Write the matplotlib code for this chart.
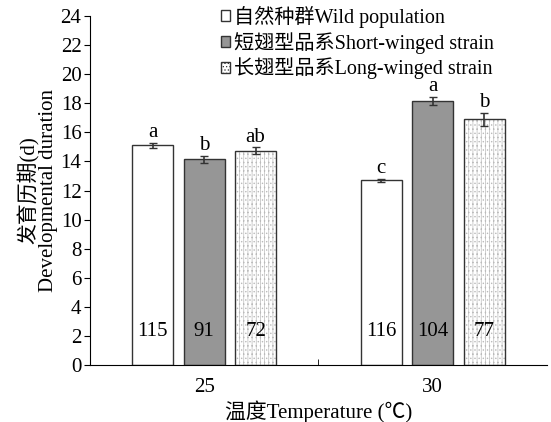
import numpy as np
import matplotlib.pyplot as plt
from matplotlib.patches import Patch

plt.rcParams['font.family'] = ['Liberation Serif', 'Noto Sans CJK SC']
plt.rcParams['hatch.linewidth'] = 0.5

temps = ['25', '30']
series = ['自然种群Wild population', '短翅型品系Short-winged strain', '长翅型品系Long-winged strain']
means = [[15.1, 12.7], [14.15, 18.15], [14.75, 16.9]]
errs = [[0.2, 0.12], [0.25, 0.3], [0.25, 0.45]]
letters = [['a', 'c'], ['b', 'a'], ['ab', 'b']]
counts = [['115', '116'], ['91', '104'], ['72', '77']]

fig = plt.figure(figsize=(5.51, 4.22), dpi=100)
ax = fig.add_axes([0.163, 0.135, 0.83, 0.827])

x = np.arange(len(temps))
w = 0.18
step = 0.225
offs = [-step, 0, step]
faces = ['white', '#969696', 'white']
hatches = [None, None, '||||....']

for i in range(3):
    pos = x + offs[i]
    if hatches[i]:
        ax.bar(pos, means[i], w, color='white', edgecolor='#bbbbbb', hatch=hatches[i], lw=0)
        ax.bar(pos, means[i], w, fill=False, edgecolor='#333333', lw=1)
    else:
        ax.bar(pos, means[i], w, color=faces[i], edgecolor='#333333', lw=1)
    ax.errorbar(pos, means[i], yerr=errs[i], fmt='none', ecolor='#333333', capsize=3, lw=1.2)
    for j in range(len(temps)):
        ax.text(pos[j], means[i][j] + errs[i][j] + 0.02, letters[i][j], ha='center', va='bottom', fontsize=15)
        ax.text(pos[j], 2.3, counts[i][j], ha='center', va='center', fontsize=15)

ax.set_xlim(-0.5, 1.5)
ax.set_ylim(0, 24)
ax.set_yticks(range(0, 25, 2))
ax.set_xticks(x)
ax.set_xticklabels(temps)
ax.set_xticks([0.5], minor=True)
ax.tick_params(axis='x', which='major', length=0, labelsize=15, pad=9)
ax.tick_params(axis='x', which='minor', direction='in', length=4)
ax.tick_params(axis='y', direction='out', length=4, labelsize=15, pad=2)
ax.spines['top'].set_visible(False)
ax.spines['right'].set_visible(False)

ax.set_ylabel('发育历期(d)\nDevelopmental duration', fontsize=15, linespacing=0.95, labelpad=2)
ax.set_xlabel('温度Temperature (℃)', fontsize=15, labelpad=3)

handles = [Patch(facecolor='white', edgecolor='#333333'),
           Patch(facecolor='#969696', edgecolor='#333333'),
           Patch(facecolor='white', edgecolor='#333333', hatch='.....')]
ax.legend(handles, series, loc='upper left', bbox_to_anchor=(0.287, 1.03), frameon=False,
          fontsize=14.5, handlelength=0.45, handleheight=0.45, handletextpad=0.2,
          labelspacing=0.2, borderpad=0, borderaxespad=0)

fig.savefig('out.png', dpi=100)
